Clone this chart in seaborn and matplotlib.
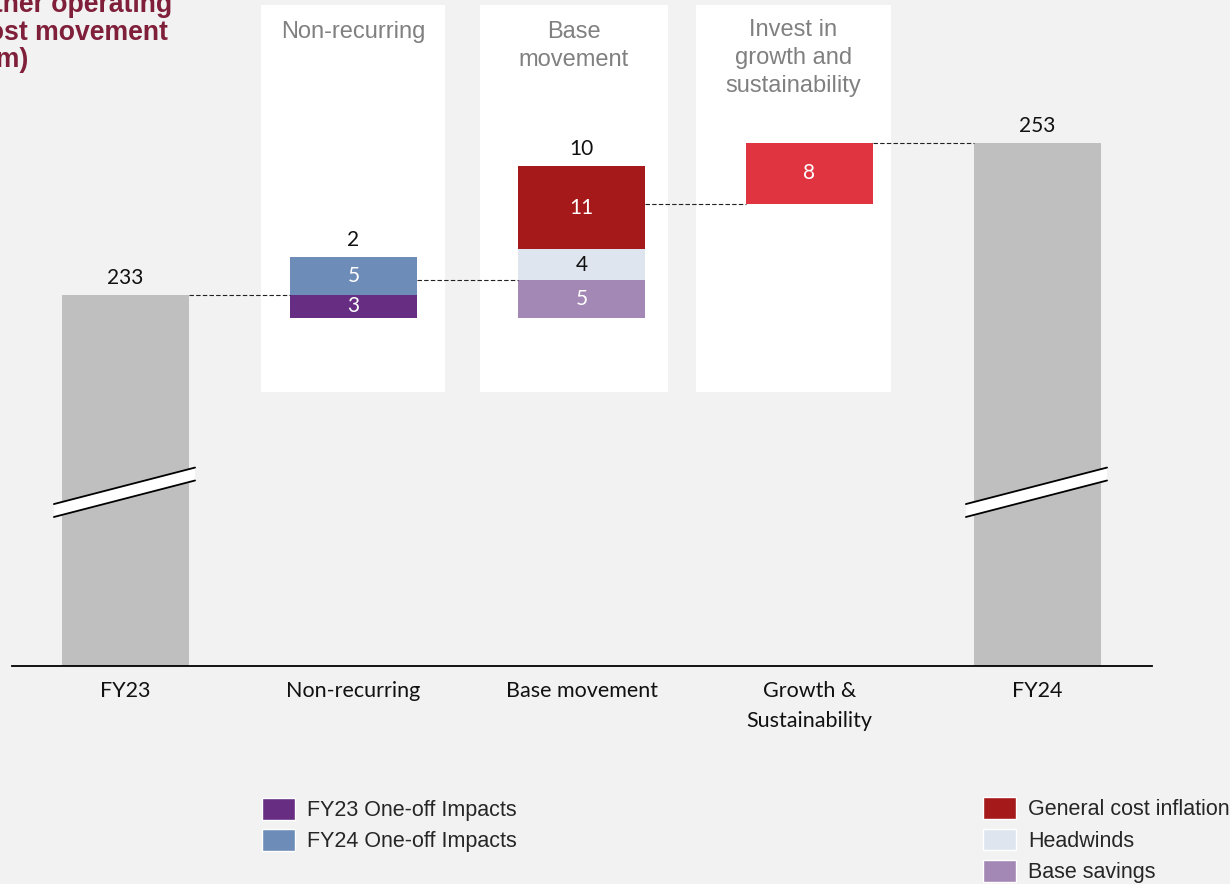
import matplotlib
matplotlib.use("Agg")
import matplotlib.pyplot as plt
from matplotlib.patches import Rectangle, Polygon, Patch
import seaborn as sns

# ---------------- data ----------------
categories = ["FY23", "Non-recurring", "Base movement", "Growth &\nSustainability", "FY24"]
fy23_total = 233
fy24_total = 253
fy23_one_off = -3
fy24_one_off = 5
nonrec_net = 2
base_savings = -5
headwinds = 4
general_inflation = 11
base_net = 10
growth_invest = 8

panel_titles = ["Non-recurring", "Base\nmovement", "Invest in\ngrowth and\nsustainability"]
legend_left = ["FY23 One-off Impacts", "FY24 One-off Impacts"]
legend_right = ["General cost inflation", "Headwinds", "Base savings"]
title = "Other operating\ncost movement\n(£m)"

# ---------------- style ----------------
BG = "#F2F2F2"
C_TOTAL = "#BFBFBF"
C_FY23 = "#662D83"
C_FY24 = "#6E8CB8"
C_INFL = "#A6191A"
C_HEAD = "#DEE5EF"
C_SAV = "#A387B5"
C_GROW = "#E03440"
C_TITLE = "#7F1F3A"
NUM_FONT = ["Lato", "DejaVu Sans"]
ARIAL = ["Liberation Sans", "DejaVu Sans"]

sns.set_theme(style="white")
plt.rcParams["font.family"] = ARIAL

W, H = 1230, 884
fig = plt.figure(figsize=(W / 100, H / 100), dpi=100, facecolor=BG)
ax = fig.add_axes([11.5 / W, 218 / H, 1140 / W, 666 / H])
ax.set_facecolor(BG)

Y_FLOOR, Y_TOP = 184.2, 271.8
BAR_W = 0.557

# white panels behind the movement bars (layout)
panels = [(0.594, 1.401), (1.555, 2.379), (2.502, 3.357)]
panel_y = (220.2, 271.2)
for (x0, x1), ptxt in zip(panels, panel_titles):
    ax.add_patch(Rectangle((x0, panel_y[0]), x1 - x0, panel_y[1] - panel_y[0],
                           facecolor="white", edgecolor="none", zorder=0))

def seg(cat, base, height, color):
    sns.barplot(x=[cat], y=[height], order=categories, bottom=base, color=color,
                width=BAR_W, saturation=1, errorbar=None, ax=ax, zorder=2,
                linewidth=0)

# running totals
lvl0 = fy23_total
lvl1 = lvl0 + fy23_one_off + fy24_one_off          # after non-recurring
lvl2 = lvl1 + base_savings + headwinds + general_inflation
lvl3 = lvl2 + growth_invest

# totals
seg(categories[0], Y_FLOOR, fy23_total - Y_FLOOR, C_TOTAL)
seg(categories[4], Y_FLOOR, fy24_total - Y_FLOOR, C_TOTAL)
# non-recurring
nr_low = lvl0 + fy23_one_off
seg(categories[1], nr_low, -fy23_one_off, C_FY23)
seg(categories[1], lvl0, fy24_one_off, C_FY24)
# base movement
bs_low = lvl1 + base_savings
seg(categories[2], bs_low, -base_savings, C_SAV)
seg(categories[2], lvl1, headwinds, C_HEAD)
seg(categories[2], lvl1 + headwinds, general_inflation, C_INFL)
# growth
seg(categories[3], lvl2, growth_invest, C_GROW)

# labels inside segments
def inner(i, base, height, text, color="white"):
    ax.text(i, base + height / 2, text, ha="center", va="center", color=color,
            fontsize=15, family=NUM_FONT, zorder=5)

inner(1, nr_low, -fy23_one_off, str(abs(fy23_one_off)))
inner(1, lvl0, fy24_one_off, str(fy24_one_off))
inner(2, bs_low, -base_savings, str(abs(base_savings)))
inner(2, lvl1, headwinds, str(headwinds), color="#111111")
inner(2, lvl1 + headwinds, general_inflation, str(general_inflation))
inner(3, lvl2, growth_invest, str(growth_invest))

# labels above stacks
def above(i, top, text):
    ax.annotate(text, (i, top), xytext=(0, 12.3), textcoords="offset points",
                ha="center", va="center", fontsize=15, family=NUM_FONT,
                color="#111111", zorder=5)

above(0, fy23_total, str(fy23_total))
above(1, lvl0 + fy24_one_off, str(nonrec_net))
above(2, lvl1 + headwinds + general_inflation, str(base_net))
above(4, fy24_total, str(fy24_total))

# dashed connectors
levels = [lvl0, lvl1, lvl2, lvl3]
for i, lv in enumerate(levels):
    ax.plot([i + BAR_W / 2, i + 1 - BAR_W / 2], [lv, lv], color="#222222",
            lw=0.8, linestyle=(0, (4, 2)), zorder=3)

# axis-break marks on the total bars
for i in (0, 4):
    xl, xr = i - 0.314, i + 0.305
    yl, yr, gap = 203.8, 208.6, 1.7
    ax.add_patch(Polygon([(xl, yl), (xr, yr), (xr, yr + gap), (xl, yl + gap)],
                         closed=True, facecolor="white", edgecolor="none", zorder=4))
    ax.plot([xl, xr], [yl, yr], color="black", lw=1.3, zorder=4.5)
    ax.plot([xl, xr], [yl + gap, yr + gap], color="black", lw=1.3, zorder=4.5)

# panel headers
for (x0, x1), ptxt in zip(panels, panel_titles):
    top_px = 19 if ptxt.count("\n") == 2 else 21
    yv = Y_TOP - (Y_TOP - Y_FLOOR) * top_px / 666
    ax.text((x0 + x1) / 2, yv, ptxt, ha="center", va="top", fontsize=17,
            color="#808080", family=ARIAL, linespacing=1.36, zorder=5)

ax.set_xlim(-0.5, 4.5)
ax.set_ylim(Y_FLOOR, Y_TOP)
ax.set_xlabel("")
ax.set_ylabel("")
ax.set_yticks([])
ax.set_xticks(range(len(categories)))
ax.set_xticklabels(categories, fontsize=15.5, family=NUM_FONT, color="#111111")
for lab in ax.get_xticklabels():
    lab.set_linespacing(1.62)
ax.tick_params(axis="x", length=0, pad=10.5)
for s in ("top", "right", "left"):
    ax.spines[s].set_visible(False)
ax.spines["bottom"].set_color("black")
ax.spines["bottom"].set_linewidth(1.3)

# title (clipped at the left edge as in the source)
fig.text(-27 / W, 1 + 8 / H, title, ha="left", va="top", fontsize=19.2,
         fontweight="bold", color=C_TITLE, family=ARIAL, linespacing=1.08)

# legends
hl = [Patch(facecolor=C_FY23), Patch(facecolor=C_FY24)]
hr = [Patch(facecolor=C_INFL), Patch(facecolor=C_HEAD), Patch(facecolor=C_SAV)]
lg_kw = dict(frameon=False, handlelength=1.53, handleheight=1.16,
             handletextpad=0.56, borderpad=0, borderaxespad=0,
             loc="upper left", prop={"family": ARIAL, "size": 15.5})
fig.legend(hl, legend_left, bbox_to_anchor=(262 / W, 1 - 798 / H),
           labelspacing=0.38, **lg_kw)
fig.legend(hr, legend_right, bbox_to_anchor=(983 / W, 1 - 797 / H),
           labelspacing=0.4, **lg_kw)

fig.savefig("out.png", dpi=100, facecolor=BG)
